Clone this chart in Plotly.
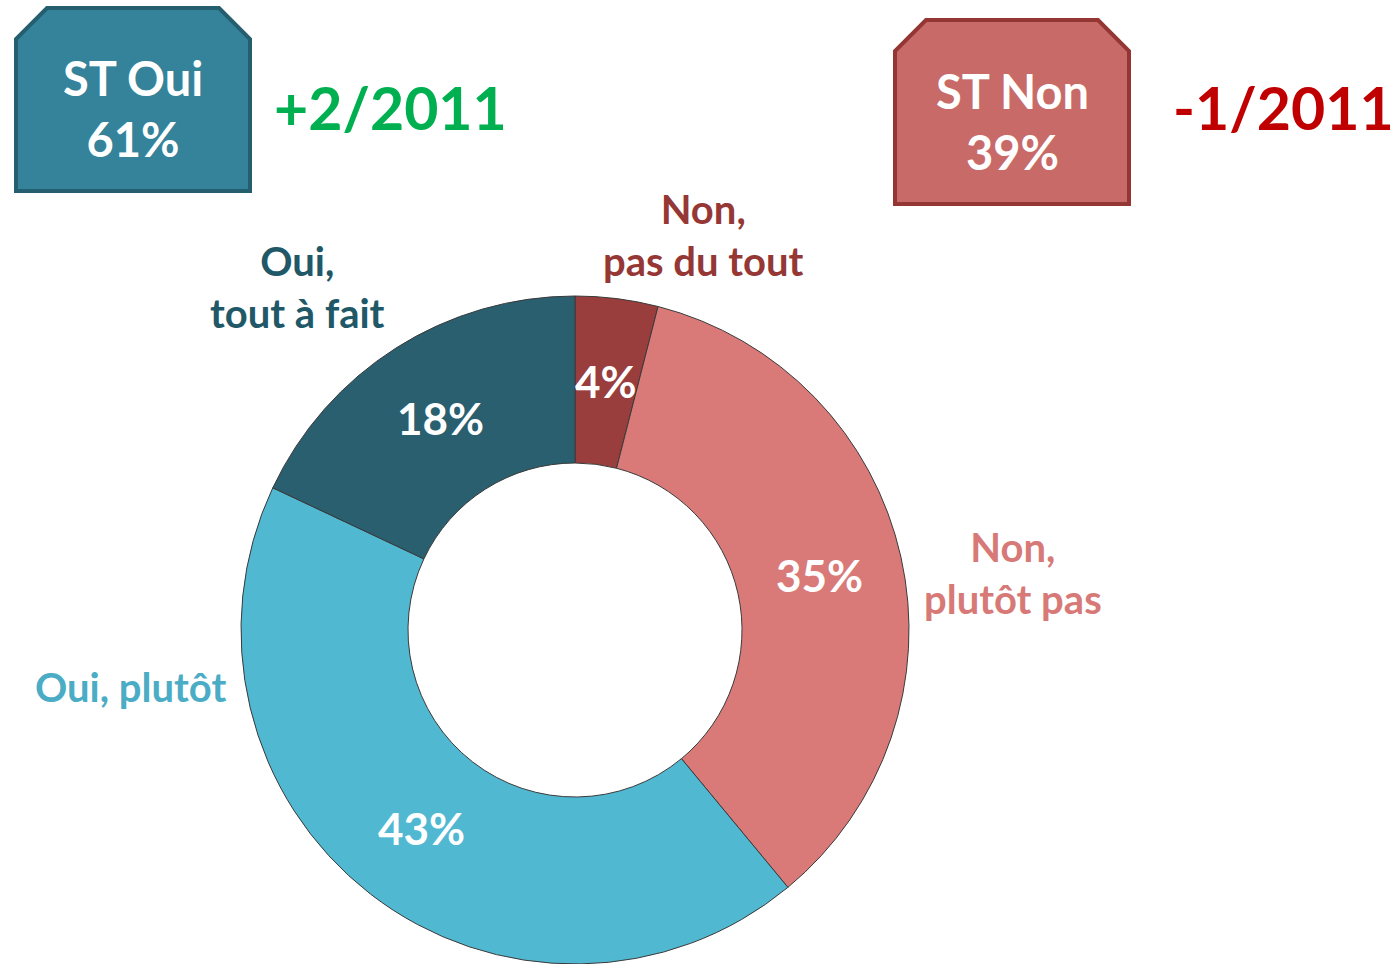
import math
import plotly.graph_objects as go

categories = ["Non, pas du tout", "Non, plutôt pas", "Oui, plutôt", "Oui, tout à fait"]
values = [4, 35, 43, 18]
slice_colors = ["#993D3D", "#D97A79", "#51B8D2", "#295F6F"]
label_texts = ["Non,<br>pas du tout", "Non,<br>plutôt pas", "Oui, plutôt", "Oui,<br>tout à fait"]
label_colors = ["#953735", "#D77977", "#4BACC6", "#215868"]
summary_titles = ["ST Oui", "ST Non"]
summary_values = [61, 39]
summary_changes = ["+2/2011", "-1/2011"]

W, H = 1400, 964
FONT = "Lato"

def px(x):
    return x / W

def py(y):
    return 1 - y / H

# donut geometry (pixels)
CX, CY, R_OUT, HOLE = 575, 630, 334, 0.5

fig = go.Figure()
fig.add_trace(go.Pie(
    labels=categories,
    values=values,
    hole=HOLE,
    sort=False,
    direction="clockwise",
    rotation=0,
    marker=dict(colors=slice_colors, line=dict(color="#3a3a3a", width=1)),
    textinfo="none",
    domain=dict(x=[(CX - R_OUT) / W, (CX + R_OUT) / W],
                y=[max(0.0, py(CY + R_OUT)), min(1.0, py(CY - R_OUT))]),
    showlegend=False,
    hoverinfo="label+percent",
))

annotations = []
shapes = []

# percentage labels at the middle of each ring segment (angles derived from the data)
total = sum(values)
r_mid = R_OUT * (1 + HOLE) / 2
cum = 0
for v in values:
    mid = (cum + v / 2) / total * 2 * math.pi
    cum += v
    x = CX + r_mid * math.sin(mid)
    y = CY - r_mid * math.cos(mid)
    annotations.append(dict(
        x=px(x), y=py(y), xref="paper", yref="paper", text=f"{v}%", showarrow=False,
        font=dict(family=FONT, size=44, color="white", weight="bold"),
        xanchor="center", yanchor="middle",
    ))

# category labels around the donut
label_pos = [(703, 235), (1013, 573), (130, 687), (297, 287)]
for txt, col, (x, y) in zip(label_texts, label_colors, label_pos):
    annotations.append(dict(
        x=px(x), y=py(y), xref="paper", yref="paper", text=txt, showarrow=False,
        font=dict(family=FONT, size=40, color=col, weight="bold"),
        align="center", xanchor="center", yanchor="middle",
    ))

# summary boxes
boxes = [
    dict(x0=16, x1=250, y0=8, y1=191, ty=108, fill="#34839A", line="#255E6E",
         change_x=390, change_y=107, change_col="#00B050"),
    dict(x0=895, x1=1129, y0=20, y1=204, ty=121, fill="#C86A68", line="#943634",
         change_x=1283, change_y=107, change_col="#C00000"),
]
for b, title, val, chg in zip(boxes, summary_titles, summary_values, summary_changes):
    c = 31
    pts = [(b["x0"], b["y1"]), (b["x0"], b["y0"] + c), (b["x0"] + c, b["y0"]),
           (b["x1"] - c, b["y0"]), (b["x1"], b["y0"] + c), (b["x1"], b["y1"])]
    path = "M " + " L ".join(f"{px(x):.5f},{py(y):.5f}" for x, y in pts) + " Z"
    shapes.append(dict(type="path", path=path, xref="paper", yref="paper",
                       fillcolor=b["fill"], line=dict(color=b["line"], width=4)))
    cx = (b["x0"] + b["x1"]) / 2
    annotations.append(dict(
        x=px(cx), y=py(b["ty"]), xref="paper", yref="paper",
        text=f"{title}<br>{val}%", showarrow=False,
        font=dict(family=FONT, size=47, color="white", weight="bold"),
        align="center", xanchor="center", yanchor="middle",
    ))
    annotations.append(dict(
        x=px(b["change_x"]), y=py(b["change_y"]), xref="paper", yref="paper",
        text=chg, showarrow=False,
        font=dict(family=FONT, size=59, color=b["change_col"], weight="bold"),
        xanchor="center", yanchor="middle",
    ))

fig.update_layout(
    width=W, height=H,
    margin=dict(l=0, r=0, t=0, b=0),
    paper_bgcolor="white", plot_bgcolor="white",
    annotations=annotations, shapes=shapes,
)

fig.write_html("out.html", config={"displayModeBar": False},
               post_script="document.body.style.margin='0';")
